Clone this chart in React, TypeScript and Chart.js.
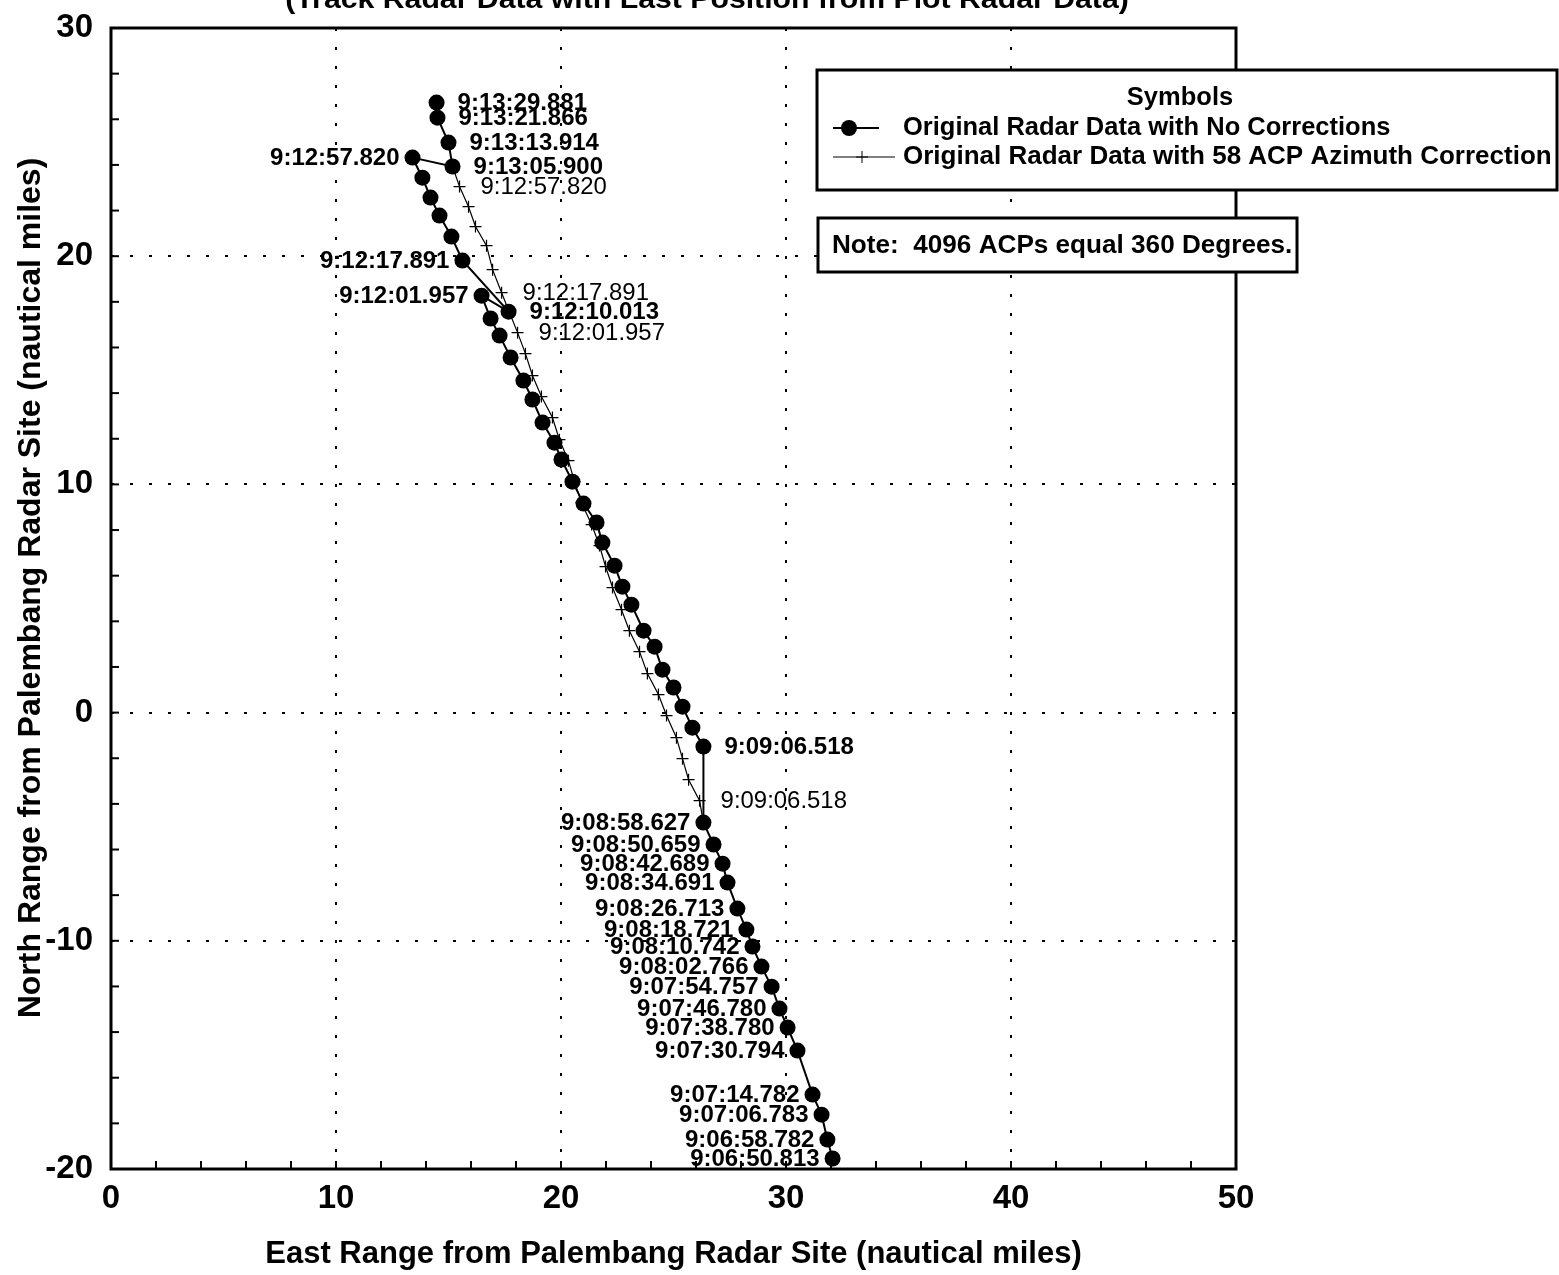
import React, { useEffect, useRef } from "react";
import { Chart, registerables } from "chart.js";

Chart.register(...registerables);

// ---------- data ----------
const origTimes = [
  "9:06:50.813", "9:06:58.782", "9:07:06.783", "9:07:14.782", "9:07:30.794",
  "9:07:38.780", "9:07:46.780", "9:07:54.757", "9:08:02.766", "9:08:10.742",
  "9:08:18.721", "9:08:26.713", "9:08:34.691", "9:08:42.689", "9:08:50.659",
  "9:08:58.627", "9:09:06.518",
  "", "", "", "", "", "", "", "", "", "", "", "", "", "", "", "", "", "", "", "", "",
  "9:12:01.957", "9:12:10.013", "9:12:17.891",
  "", "", "", "",
  "9:12:57.820", "9:13:05.900", "9:13:13.914", "9:13:21.866", "9:13:29.881",
];
const origX = [
  32.07, 31.84, 31.58, 31.18, 30.51, 30.07, 29.71, 29.36, 28.91, 28.51,
  28.24, 27.84, 27.40, 27.18, 26.78, 26.33, 26.33,
  25.84, 25.40, 25.00, 24.51, 24.16, 23.67, 23.13, 22.73, 22.38, 21.84,
  21.58, 21.00, 20.51, 20.02, 19.71, 19.18, 18.73, 18.33, 17.76, 17.27, 16.87,
  16.47, 17.67, 15.62,
  15.13, 14.60, 14.20, 13.84,
  13.40, 15.18, 15.00, 14.51, 14.47,
];
const origY = [
  -19.54, -18.71, -17.62, -16.74, -14.81, -13.80, -12.97, -12.01, -11.13, -10.25,
  -9.51, -8.59, -7.45, -6.62, -5.78, -4.82, -1.49,
  -0.66, 0.26, 1.10, 1.88, 2.89, 3.59, 4.73, 5.52, 6.44, 7.45,
  8.33, 9.16, 10.12, 11.09, 11.83, 12.71, 13.72, 14.55, 15.56, 16.52, 17.27,
  18.27, 17.57, 19.81,
  20.86, 21.78, 22.57, 23.44,
  24.32, 23.93, 24.98, 26.07, 26.73,
];

const corrTimes = [
  "", "9:09:06.518",
  "", "", "", "", "", "", "", "", "", "", "", "", "", "", "", "", "", "", "", "", "",
  "9:12:01.957", "", "9:12:17.891", "", "", "", "", "9:12:57.820", "",
];
const corrX = [
  26.33, 26.16, 25.67, 25.40, 25.13, 24.69, 24.33, 23.84, 23.49, 23.04,
  22.69, 22.29, 21.98, 21.71, 21.36, 20.91, 20.60, 20.33, 19.93, 19.62,
  19.13, 18.73, 18.42, 18.07, 17.71, 17.36, 16.96, 16.69, 16.20, 15.89,
  15.49, 15.18,
];
const corrY = [
  -4.82, -3.86, -2.94, -2.02, -1.10, -0.13, 0.79, 1.71, 2.67, 3.59,
  4.51, 5.48, 6.40, 7.32, 8.24, 9.20, 10.12, 11.04, 11.96, 12.93,
  13.85, 14.77, 15.73, 16.65, 17.53, 18.40, 19.41, 20.46, 21.30, 22.17,
  23.05, 23.93,
];

// original-series labels that sit to the right of their point
const origRightLabels = [
  "9:13:29.881", "9:13:21.866", "9:13:13.914", "9:13:05.900", "9:12:10.013", "9:09:06.518",
];

const xMin = 0, xMax = 50, yMin = -20, yMax = 30, majorStep = 10, minorStep = 2;

const titleText = "(Track Radar Data with Last Position from Plot Radar Data)";
const xTitle = "East Range from Palembang Radar Site (nautical miles)";
const yTitle = "North Range from Palembang Radar Site (nautical miles)";
const legendTitle = "Symbols";
const seriesNames = [
  "Original Radar Data with No Corrections",
  "Original Radar Data with 58 ACP Azimuth Correction",
];
const noteText = "Note:  4096 ACPs equal 360 Degrees.";

// ---------- drawing helpers ----------
const FAM = "'Liberation Sans', Arial, Helvetica, sans-serif";

function sText(ctx: CanvasRenderingContext2D, text: string, x: number, y: number,
  font: string, align: CanvasTextAlign, sx = 1, rot = 0) {
  ctx.save();
  ctx.font = font;
  ctx.fillStyle = "#000";
  ctx.textAlign = align;
  ctx.textBaseline = "middle";
  ctx.translate(x, y);
  if (rot) ctx.rotate(rot);
  ctx.scale(sx, 1);
  ctx.fillText(text, 0, 0);
  ctx.restore();
}

function line(ctx: CanvasRenderingContext2D, x1: number, y1: number, x2: number, y2: number) {
  ctx.beginPath();
  ctx.moveTo(x1, y1);
  ctx.lineTo(x2, y2);
  ctx.stroke();
}

const overlayPlugin = {
  id: "overlay",
  afterDatasetsDraw(chart: any) {
    const ctx: CanvasRenderingContext2D = chart.ctx;
    const ca = chart.chartArea;
    const xs = chart.scales.x;
    const ys = chart.scales.y;
    ctx.save();
    ctx.strokeStyle = "#000";
    ctx.fillStyle = "#000";

    // frame
    ctx.lineWidth = 3;
    ctx.strokeRect(ca.left, ca.top, ca.right - ca.left, ca.bottom - ca.top);

    // inward minor ticks
    ctx.lineWidth = 2;
    for (let v = xMin + minorStep; v < xMax; v += minorStep) {
      const px = xs.getPixelForValue(v);
      line(ctx, px, ca.bottom, px, ca.bottom - 8);
    }
    for (let v = yMin + minorStep; v < yMax; v += minorStep) {
      const py = ys.getPixelForValue(v);
      line(ctx, ca.left, py, ca.left + 8, py);
    }

    // point labels - original (bold)
    const boldF = `bold 24px ${FAM}`;
    const normF = `23px ${FAM}`;
    origTimes.forEach((t, i) => {
      if (!t) return;
      const px = xs.getPixelForValue(origX[i]);
      const py = ys.getPixelForValue(origY[i]);
      if (origRightLabels.includes(t)) sText(ctx, t, px + 21, py + 1, boldF, "left");
      else sText(ctx, t, px - 13, py + 1, boldF, "right");
    });
    // point labels - corrected (regular)
    corrTimes.forEach((t, i) => {
      if (!t) return;
      const px = xs.getPixelForValue(corrX[i]);
      const py = ys.getPixelForValue(corrY[i]);
      sText(ctx, t, px + 21, py + 1, normF, "left", 1.04);
    });

    // axis titles
    sText(ctx, xTitle, (ca.left + ca.right) / 2, 1254, `bold 31px ${FAM}`, "center");
    sText(ctx, yTitle, 31, 588, `bold 32px ${FAM}`, "center", 1, -Math.PI / 2);

    // title (partly cut off at top of page)
    sText(ctx, titleText, 707, 0, `bold 28px ${FAM}`, "center", 1.08);

    // legend box
    const legF = `bold 25px ${FAM}`;
    ctx.fillStyle = "#fff";
    ctx.fillRect(817, 70, 740, 120);
    sText(ctx, legendTitle, 1180, 98, legF, "center", 1.02);
    ctx.lineWidth = 2;
    line(ctx, 833, 128, 879, 128);
    ctx.beginPath();
    ctx.arc(849, 128, 8, 0, Math.PI * 2);
    ctx.fillStyle = "#000";
    ctx.fill();
    sText(ctx, seriesNames[0], 903, 128, legF, "left", 1.02);
    ctx.lineWidth = 1;
    line(ctx, 833, 157, 895, 157);
    line(ctx, 856, 157, 868, 157);
    line(ctx, 862, 151, 862, 163);
    sText(ctx, seriesNames[1], 903, 157, legF, "left", 1.04);
    ctx.lineWidth = 3;
    ctx.strokeRect(817, 70, 740, 120);

    // note box
    ctx.fillStyle = "#fff";
    ctx.fillRect(818, 218, 479, 54);
    sText(ctx, noteText, 832, 246, legF, "left", 1.045);
    ctx.lineWidth = 3;
    ctx.strokeRect(818, 218, 479, 54);

    ctx.restore();
  },
};

export default function App() {
  const ref = useRef<HTMLCanvasElement | null>(null);

  useEffect(() => {
    if (!ref.current) return;
    const tickFont = { family: FAM, size: 33, weight: "bold" as const };
    const chart = new Chart(ref.current, {
      type: "scatter",
      data: {
        datasets: [
          {
            label: seriesNames[0],
            data: origX.map((x, i) => ({ x, y: origY[i] })),
            showLine: true,
            borderColor: "#000",
            backgroundColor: "#000",
            borderWidth: 2,
            pointStyle: "circle",
            pointRadius: 8,
            pointBorderWidth: 0,
            pointBackgroundColor: "#000",
            tension: 0,
          },
          {
            label: seriesNames[1],
            data: corrX.map((x, i) => ({ x, y: corrY[i] })),
            showLine: true,
            borderColor: "#000",
            backgroundColor: "#000",
            borderWidth: 1.2,
            pointStyle: "cross",
            pointRadius: 6,
            pointBorderWidth: 1.2,
            pointBorderColor: "#000",
            tension: 0,
          },
        ],
      },
      options: {
        responsive: false,
        animation: false,
        devicePixelRatio: 1,
        layout: { padding: { top: 28, right: 323, left: 0, bottom: 0 } },
        plugins: { legend: { display: false }, tooltip: { enabled: false } },
        scales: {
          x: {
            type: "linear",
            min: xMin,
            max: xMax,
            afterFit: (s: any) => { s.height = 106; s.paddingLeft = 0; s.paddingRight = 0; },
            ticks: { stepSize: majorStep, color: "#000", font: tickFont, padding: 10, maxRotation: 0 },
            grid: { color: "#000", lineWidth: 2, drawTicks: false },
            border: { display: false, dash: [3, 16] },
          },
          y: {
            type: "linear",
            min: yMin,
            max: yMax,
            afterFit: (s: any) => { s.width = 111; s.paddingTop = 0; s.paddingBottom = 0; },
            ticks: { stepSize: majorStep, color: "#000", font: tickFont, padding: 18 },
            grid: { color: "#000", lineWidth: 2, drawTicks: false },
            border: { display: false, dash: [3, 16] },
          },
        },
      },
      plugins: [overlayPlugin],
    });
    return () => chart.destroy();
  }, []);

  return (
    <div style={{ position: "absolute", left: 0, top: 0, width: 1559, height: 1275, background: "#fff" }}>
      <canvas ref={ref} width={1559} height={1275} style={{ display: "block" }} />
    </div>
  );
}
